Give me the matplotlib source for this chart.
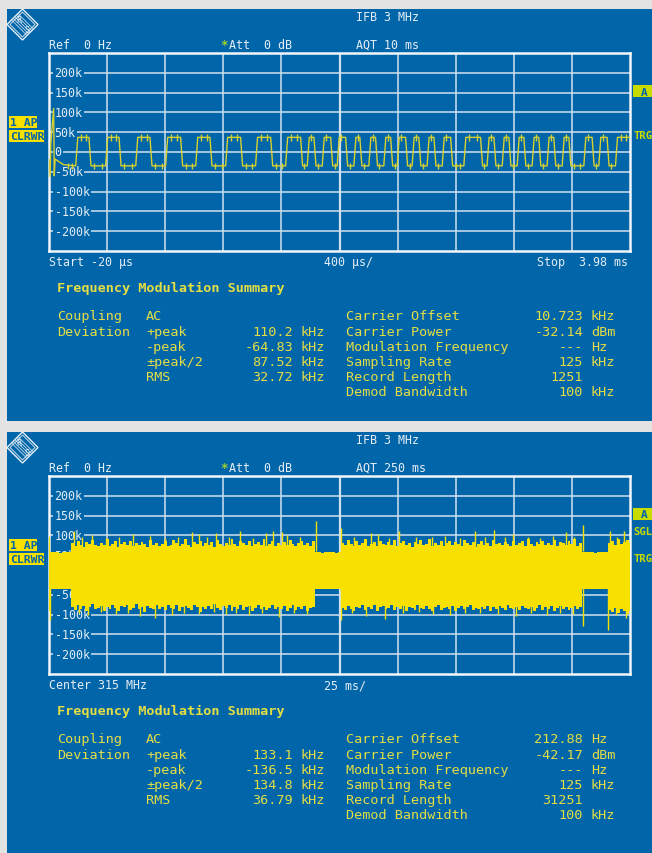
import matplotlib
matplotlib.use("Agg")
import matplotlib.pyplot as plt
from matplotlib.patches import Rectangle, Polygon

# ---------------- data ----------------
# screen 1 : FM demod, 400 us/div, start -20 us (edges of the FSK trace, ms)
t1_head = [-0.02, -0.012, -0.008, 0.012, 0.016, 0.022, 0.08]
y1_head = [-20, -62, 20, 110, -60, -18, -32]          # kHz
t1_edges = [0.171, 0.262, 0.377, 0.469, 0.584, 0.682, 0.790, 0.893, 0.997, 1.095,
            1.203, 1.306, 1.409, 1.513, 1.616, 1.719, 1.765, 1.811, 1.868, 1.926,
            1.971, 2.029, 2.086, 2.127, 2.189, 2.235, 2.292, 2.339, 2.384, 2.442,
            2.487, 2.533, 2.590, 2.637, 2.694, 2.752, 2.843, 2.958, 3.003, 3.050,
            3.107, 3.153, 3.210, 3.256, 3.313, 3.359, 3.416, 3.462, 3.520, 3.566,
            3.669, 3.726, 3.772, 3.829, 3.887]
t1_levels = [37, -35]   # high / low deviation, kHz

# screen 2 : 250 ms sweep, envelope of the trace every 1.25 ms (kHz)
t2 = [i * 1.25 for i in range(201)]
up2 = [96, 57, 57, 57, 56, 57, 57, 58, 80, 74, 86, 77, 71, 83, 79, 88, 75, 72, 81, 77,
       90, 74, 79, 85, 70, 78, 83, 76, 87, 73, 80, 75, 84, 78, 71, 89, 76, 82, 74, 79,
       85, 72, 77, 88, 81, 74, 79, 92, 75, 70, 83, 78, 86, 73, 80, 77, 84, 71, 88, 79,
       74, 82, 76, 90, 78, 72, 85, 80, 75, 87, 73, 79, 83, 76, 91, 74, 78, 86, 72, 81,
       77, 84, 75, 88, 79, 73, 82, 86, 76, 80, 74, 85, 57, 57, 56, 57, 58, 57, 57, 56,
       57, 82, 76, 88, 79, 73, 85, 77, 81, 90, 74, 78, 84, 72, 87, 79, 75, 83, 77, 89,
       73, 80, 86, 76, 82, 71, 84, 78, 88, 75, 79, 92, 74, 81, 77, 85, 72, 80, 87, 76,
       83, 78, 74, 89, 80, 75, 84, 71, 79, 86, 77, 82, 73, 88, 78, 81, 75, 84, 79, 72,
       87, 76, 80, 85, 74, 90, 78, 73, 83, 79, 86, 75, 81, 77, 88, 72, 84, 80, 76, 85,
       78, 91, 74, 82, 57, 57, 58, 57, 56, 57, 57, 58, 57, 80, 86, 75, 90, 78, 84, 88,
       80]
lo2 = [-92, -35, -35, -36, -35, -35, -36, -35, -82, -88, -76, -85, -79, -92, -81, -74, -87, -83, -78, -90,
       -80, -86, -75, -84, -91, -79, -82, -77, -88, -84, -73, -86, -81, -94, -78, -83, -87, -76, -85, -80,
       -89, -77, -83, -86, -75, -91, -82, -79, -84, -88, -76, -81, -93, -80, -85, -78, -87, -74, -83, -89,
       -79, -84, -77, -90, -82, -86, -75, -88, -81, -79, -92, -84, -77, -86, -80, -89, -83, -76, -87, -81,
       -85, -78, -90, -83, -76, -88, -82, -86, -79, -91, -84, -80, -36, -35, -35, -36, -35, -35, -36, -35,
       -36, -83, -89, -78, -85, -92, -80, -84, -77, -88, -82, -86, -75, -90, -81, -79, -87, -84, -76, -89,
       -82, -86, -78, -91, -80, -84, -88, -77, -83, -87, -79, -85, -92, -81, -76, -88, -83, -80, -86, -78,
       -90, -84, -79, -87, -82, -76, -89, -83, -86, -80, -85, -78, -91, -82, -87, -79, -84, -88, -77, -83,
       -86, -81, -89, -78, -84, -87, -80, -92, -83, -77, -88, -82, -85, -79, -90, -84, -78, -86, -81, -88,
       -83, -79, -87, -80, -35, -36, -35, -35, -36, -35, -35, -36, -35, -88, -94, -84, -97, -86, -91, -99,
       -90]
spk_up_t = [10.8, 14.2, 18.5, 24.7, 30.1, 36.1, 43.5, 49.8, 55.3, 61.5, 64.5, 68.0, 71.9,
            77.6, 82.2, 87.9, 93.4, 96.4, 100.3, 102.4, 107.8, 114.9, 125.6, 131.2, 138.6,
            141.6, 146.3, 150.6, 158.1, 164.7, 170.2, 176.8, 183.3, 187.4, 191.5, 196.0,
            199.7, 205.9, 211.3, 217.0, 222.5, 226.1, 229.8, 241.4, 244.6, 247.4]
spk_up_v = [112, 95, 100, 93, 97, 104, 98, 94, 96, 108, 103, 95, 106,
            96, 112, 94, 105, 110, 108, 100, 95, 136, 118, 96, 107,
            104, 94, 110, 97, 95, 99, 93, 112, 96, 114, 95,
            104, 97, 94, 99, 108, 96, 126, 110, 97, 112]
spk_lo_t = [0.4, 12.9, 16.8, 22.4, 28.7, 34.0, 39.2, 45.6, 52.9, 58.3, 64.5, 70.8,
            76.1, 80.4, 86.1, 91.7, 99.0, 105.5, 110.9, 125.6, 130.3, 136.4, 144.6,
            152.2, 159.0, 165.4, 172.5, 178.9, 185.6, 193.0, 200.9, 207.2, 214.3,
            219.8, 225.5, 229.8, 240.5, 244.1, 248.3]
spk_lo_v = [-113, -96, -100, -94, -98, -95, -104, -108, -100, -96, -98, -94,
            -99, -95, -102, -97, -106, -95, -98, -113, -96, -104, -110,
            -97, -94, -99, -100, -96, -95, -98, -104, -96, -100,
            -95, -99, -129, -139, -102, -108]

y_ticks = [200, 150, 100, 50, 0, -50, -100, -150, -200]
y_tick_labels = ["200k", "150k", "100k", "50k", "0", "-50k", "-100k", "-150k", "-200k"]

screens = [
    {"aqt": "AQT 10 ms", "left": "Start -20 \u00b5s", "mid": "400 \u00b5s/",
     "right": "Stop  3.98 ms", "sgl": False,
     "dev": ["110.2", "-64.83", "87.52", "32.72"],
     "info": ["10.723", "-32.14", "---", "125", "1251", "100"],
     "units": ["kHz", "dBm", "Hz", "kHz", "", "kHz"]},
    {"aqt": "AQT 250 ms", "left": "Center 315 MHz", "mid": "25 ms/",
     "right": "", "sgl": True,
     "dev": ["133.1", "-136.5", "134.8", "36.79"],
     "info": ["212.88", "-42.17", "---", "125", "31251", "100"],
     "units": ["Hz", "dBm", "Hz", "kHz", "", "kHz"]},
]
dev_names = ["+peak", "-peak", "\u00b1peak/2", "RMS"]
info_names = ["Carrier Offset", "Carrier Power", "Modulation Frequency",
              "Sampling Rate", "Record Length", "Demod Bandwidth"]

# ---------------- style ----------------
W, H = 652, 854
BLUE = "#0166a9"
GREY = "#e3e3e3"
GRID = "#d2e0ee"
FRAME = "#f2f6fa"
WTXT = "#e6edf5"
YTXT = "#e4de44"
YEL = "#f8e000"
LIME = "#c8dc00"
TRACE = "#d8d02e"
MONO = "DejaVu Sans Mono"
FS_H = 8.4
FS_S = 9.7

fig = plt.figure(figsize=(W / 100, H / 100), dpi=100, facecolor=GREY)
bg = fig.add_axes([0, 0, 1, 1])
bg.set_xlim(0, W)
bg.set_ylim(H, 0)
bg.axis("off")


def px_axes(x0, y0, x1, y1):
    return fig.add_axes([x0 / W, 1 - y1 / H, (x1 - x0) / W, (y1 - y0) / H])


def txt(x, y, s, color=WTXT, size=FS_H, **kw):
    bg.text(x, y, s, color=color, fontsize=size, family=MONO, va="center", **kw)


def logo(cx, cy):
    r = 15.5
    bg.add_patch(Polygon([(cx - r, cy), (cx, cy - r), (cx + r, cy), (cx, cy + r)],
                         closed=True, fill=False, ec=WTXT, lw=1.0))
    r2 = 12.5
    bg.add_patch(Polygon([(cx - r2, cy), (cx, cy - r2), (cx + r2, cy), (cx, cy + r2)],
                         closed=True, fill=False, ec=WTXT, lw=0.6))
    for k in range(-2, 3):
        d = k * 1.6
        bg.plot([cx - 7 + d, cx + 7 + d], [cy - 7 - d, cy + 7 - d], color=WTXT, lw=0.5)
    txt(cx - 4, cy - 5, "R", size=6, ha="center")
    txt(cx + 4, cy + 5, "S", size=6, ha="center")


def box(x0, y0, x1, y1, s, fc, tc=BLUE):
    bg.add_patch(Rectangle((x0, y0), x1 - x0, y1 - y0, fc=fc, ec="none"))
    bg.text(x0 + 1, (y0 + y1) / 2 + 0.5, s, color=tc, fontsize=8.2, family=MONO,
            weight="bold", va="center")


def scope_axes(ax, x0, x1):
    ax.set_facecolor(BLUE)
    ax.set_xlim(x0, x1)
    ax.set_ylim(-250, 250)
    ax.set_xticks([])
    ax.set_yticks([])
    for sp in ax.spines.values():
        sp.set_color(FRAME)
        sp.set_linewidth(1.8)
    step = (x1 - x0) / 10
    for i in range(1, 10):
        ax.axvline(x0 + i * step, color=GRID, lw=1.6 if i == 5 else 1.1, zorder=1)
    for v, lab in zip(y_ticks, y_tick_labels):
        ax.axhline(v, color=GRID, lw=1.1, zorder=1)
        ax.text(0.0095, v, lab, transform=ax.get_yaxis_transform(), color=WTXT,
                fontsize=FS_H, family=MONO, va="center", ha="left", zorder=2,
                bbox=dict(boxstyle="square,pad=0.1", fc=BLUE, ec="none"))


for n, scr in enumerate(screens):
    dy = 0 if n == 0 else 423
    top = 10 if n == 0 else 433
    bot = 422 if n == 0 else 854
    bg.add_patch(Rectangle((7, top), W - 7, bot - top, fc=BLUE, ec="none"))
    logo(22.5, 25.5 + dy)
    txt(356, 17.5 + dy, "IFB 3 MHz")
    txt(49, 45.5 + dy, "Ref  0 Hz")
    txt(220, 45.5 + dy, "*", color="#9fd22a", size=9, weight="bold")
    txt(229, 45.5 + dy, "Att  0 dB")
    txt(356, 45.5 + dy, scr["aqt"])
    box(9, 117 + dy, 37, 129 + dy, "1 AP", YEL)
    box(9, 131 + dy, 44, 143 + dy, "CLRWR", YEL)
    box(633, 86 + dy, W, 98 + dy, " A", LIME)
    if scr["sgl"]:
        txt(633, 109 + dy, "SGL", color=LIME, size=7.6, weight="bold")
    txt(633, 136 + dy, "TRG", color=LIME, size=7.6, weight="bold")
    txt(49, 263 + dy, scr["left"])
    txt(324, 263 + dy, scr["mid"])
    if scr["right"]:
        txt(628, 263 + dy, scr["right"], ha="right")

    # summary block
    txt(57, 288 + dy, "Frequency Modulation Summary", color=YTXT, size=FS_S, weight="bold")
    rows = [317, 333, 348, 363, 378, 393]
    txt(57, rows[0] + dy, "Coupling", color=YTXT, size=FS_S)
    txt(146, rows[0] + dy, "AC", color=YTXT, size=FS_S)
    txt(57, rows[1] + dy, "Deviation", color=YTXT, size=FS_S)
    for i, (nm, val) in enumerate(zip(dev_names, scr["dev"])):
        y = rows[i + 1] + dy
        txt(146, y, nm, color=YTXT, size=FS_S)
        txt(293, y, val, color=YTXT, size=FS_S, ha="right")
        txt(301, y, "kHz", color=YTXT, size=FS_S)
    for i, (nm, val, u) in enumerate(zip(info_names, scr["info"], scr["units"])):
        y = rows[i] + dy
        txt(346, y, nm, color=YTXT, size=FS_S)
        txt(583, y, val, color=YTXT, size=FS_S, ha="right")
        if u:
            txt(591, y, u, color=YTXT, size=FS_S)

# ---------------- screen 1 trace ----------------
ax1 = px_axes(49, 54, 630, 252)
scope_axes(ax1, -0.02, 3.98)
high, low = t1_levels
tx, ty = list(t1_head), list(y1_head)
level = low
for e in t1_edges:
    new = high if level == low else low
    tx += [e - 0.007, e + 0.007]
    ty += [level, new]
    level = new
tx.append(3.98)
ty.append(level)
ax1.plot(tx, ty, color=TRACE, lw=1.0, zorder=4, clip_on=True)
# little overshoot ticks at both ends of every plateau
bounds = [0.08] + t1_edges + [3.98]
level = low
for a, b in zip(bounds[:-1], bounds[1:]):
    xs = [a + 0.03, b - 0.03] if b - a > 0.07 else [a + 0.02]
    ax1.vlines(xs, level - 8, level + 8, color=TRACE, lw=1.0, zorder=4)
    level = high if level == low else low

# ---------------- screen 2 trace ----------------
ax2 = px_axes(49, 477, 630, 675)
scope_axes(ax2, 0, 250)
ax2.fill_between(t2, lo2, up2, step="mid", color=YEL, lw=0, zorder=4)
ax2.vlines(spk_up_t, 60, spk_up_v, color=YEL, lw=1.0, zorder=4)
ax2.vlines(spk_lo_t, spk_lo_v, -30, color=YEL, lw=1.0, zorder=4)

fig.savefig("out.png", dpi=100, facecolor=GREY)
